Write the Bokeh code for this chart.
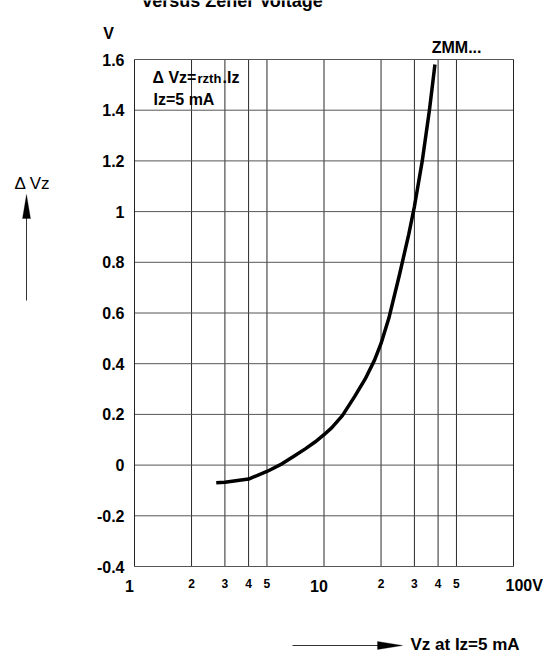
from bokeh.plotting import figure
from bokeh.models import Label, Arrow, PolyAnnotation, Range1d
from bokeh.embed import file_html
from bokeh.resources import INLINE

# Temperature-dependent change of Zener voltage versus Zener voltage (ZMM series)
vz = [2.7, 3.0, 4.0, 5.0, 6.0, 7.0, 8.0, 9.0, 10, 11, 12.5, 14.5, 16.5, 18.5, 20,
      22, 25, 28, 30, 33, 36, 38.5]
dvz = [-0.07, -0.068, -0.055, -0.025, 0.005, 0.037, 0.065, 0.092, 0.12, 0.148, 0.195,
       0.27, 0.34, 0.415, 0.48, 0.58, 0.75, 0.91, 1.02, 1.2, 1.4, 1.58]

x_grid = [2, 3, 4, 5, 10, 20, 30, 40, 50]
x_major_ticks = [1, 10, 100]
x_major_labels = ["1", "10", "100V"]
x_minor_ticks = [2, 3, 4, 5, 20, 30, 40, 50]
x_minor_labels = ["2", "3", "4", "5", "2", "3", "4", "5"]
y_ticks = [-0.4, -0.2, 0, 0.2, 0.4, 0.6, 0.8, 1.0, 1.2, 1.4, 1.6]
y_labels = ["-0.4", "-0.2", "0", "0.2", "0.4", "0.6", "0.8", "1", "1.2", "1.4", "1.6"]

W, H = 554, 662
# chart box inside the page (pixels from the top-left corner)
FL, FR, FT, FB = 134, 513, 59, 566
X0, X1, Y0, Y1 = 1, 100, -0.4, 1.6
FONT = "Liberation Sans"


def dx(px):
    """Page column -> value on the log Vz axis."""
    return X0 * (X1 / X0) ** ((px - FL) / (FR - FL))


def dy(py):
    """Page row -> value on the ΔVz axis."""
    return Y1 - (py - FT) / (FB - FT) * (Y1 - Y0)


# The frame covers the whole page so that labels around the chart box are not clipped;
# the chart box itself is drawn from segments.
p = figure(width=W, height=H, x_axis_type="log",
           x_range=Range1d(dx(0), dx(W)), y_range=Range1d(dy(H), dy(0)),
           output_backend="svg", toolbar_location=None, min_border=0)
p.frame_width = W
p.frame_height = H
p.xaxis.visible = False
p.yaxis.visible = False
p.grid.visible = False
p.outline_line_color = None
p.background_fill_color = "white"
p.border_fill_color = "white"

# grid
n = len(x_grid)
p.segment(x0=x_grid, y0=[Y0] * n, x1=x_grid, y1=[Y1] * n, line_color="#2a2a2a", line_width=1)
m = len(y_ticks)
p.segment(x0=[X0] * m, y0=y_ticks, x1=[X1] * m, y1=y_ticks, line_color="#555555", line_width=1)
# box
p.segment(x0=[X0, X1], y0=[Y0, Y0], x1=[X0, X1], y1=[Y1, Y1], line_color="#222222", line_width=1)

p.line(vz, dvz, line_width=3.5, line_color="black", line_cap="butt", line_join="round")


def lab(x, y, text, size, bold=True, align="center", xo=0):
    p.add_layout(Label(x=x, y=y, x_offset=xo,
                       text=text, text_font=FONT, text_font_size=f"{size}px",
                       text_font_style="bold" if bold else "normal",
                       text_align=align, text_baseline="middle", text_color="black"))


# y tick labels
for v, t in zip(y_ticks, y_labels):
    lab(X0, v, t, 16, align="right", xo=-10)

# x tick labels
for v, t in zip(x_major_ticks, x_major_labels):
    if t.endswith("V"):
        lab(v, dy(585), t, 16, align="left", xo=-8)
    else:
        lab(v, dy(585), t, 16, xo=-5)
for v, t in zip(x_minor_ticks, x_minor_labels):
    lab(v, dy(583), t, 12)

# titles and annotations
lab(dx(232), dy(0), "versus Zener Voltage", 18)
lab(dx(108), dy(33), "V", 16)
lab(dx(481), dy(47), "ZMM...", 16, align="right")

lab(dx(152), dy(77), "\u0394 Vz=", 16, align="left")
lab(dx(197), dy(78), "rzth", 13, align="left")
lab(dx(222), dy(77), ".Iz", 16, align="left")
lab(dx(153), dy(99), "Iz=5 mA", 16, align="left")

lab(dx(32), dy(183), "\u0394 Vz", 17, bold=False)
lab(dx(410), dy(644), "Vz at Iz=5 mA", 17, align="left")

# axis direction arrows
p.add_layout(Arrow(end=None, x_start=dx(26), y_start=dy(300), x_end=dx(26), y_end=dy(214),
                   line_color="#333333", line_width=1))
p.add_layout(PolyAnnotation(xs=[dx(22), dx(26), dx(30)], ys=[dy(218), dy(194), dy(218)],
                            fill_color="black", fill_alpha=1, line_color="black"))
p.add_layout(Arrow(end=None, x_start=dx(292), y_start=dy(645), x_end=dx(380), y_end=dy(645),
                   line_color="#333333", line_width=1))
p.add_layout(PolyAnnotation(xs=[dx(377), dx(402), dx(377)], ys=[dy(641), dy(645), dy(649)],
                            fill_color="black", fill_alpha=1, line_color="black"))

open("out.html", "w").write(file_html(p, INLINE))
